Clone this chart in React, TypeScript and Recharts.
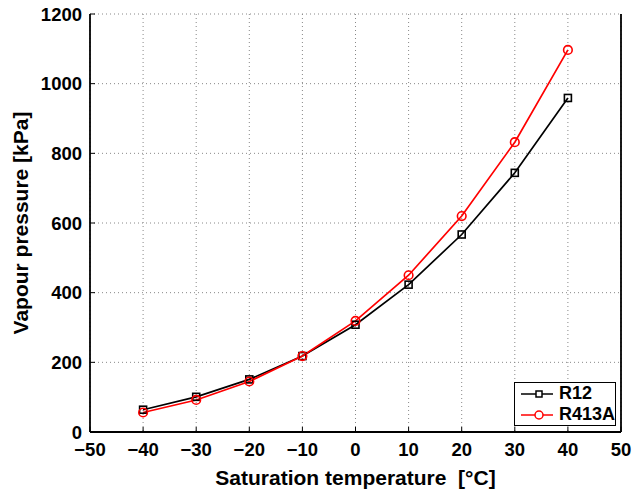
import React from "react";
import { LineChart, Line, XAxis, YAxis, CartesianGrid } from "recharts";

const temperatures = [-40, -30, -20, -10, 0, 10, 20, 30, 40];
const r12 = [64, 101, 151, 218, 308, 423, 567, 744, 959];
const r413a = [56, 92, 145, 218, 319, 450, 620, 832, 1097];
const xTicks = [-50, -40, -30, -20, -10, 0, 10, 20, 30, 40, 50];
const yTicks = [0, 200, 400, 600, 800, 1000, 1200];
const seriesNames = ["R12", "R413A"];

const data = temperatures.map((t, i) => ({ t, r12: r12[i], r413a: r413a[i] }));

const FONT = "'Liberation Sans', Arial, sans-serif";
const TICK_LEN = 5;
const TICK_FONT = 18.5;
const LABEL_FONT = 21;

const BottomTick = (props: any) => {
  const { x, y, payload } = props;
  return (
    <g>
      <line x1={x} y1={y} x2={x} y2={y - TICK_LEN} stroke="#000" strokeWidth={1} />
      <text x={x} y={y + 24} textAnchor="middle" fontFamily={FONT} fontWeight="bold" fontSize={TICK_FONT} fill="#000">
        {String(payload.value).replace("-", "\u2212")}
      </text>
    </g>
  );
};

const TopTick = (props: any) => {
  const { x, y } = props;
  return <line x1={x} y1={y} x2={x} y2={y + TICK_LEN} stroke="#000" strokeWidth={1} />;
};

const LeftTick = (props: any) => {
  const { x, y, payload } = props;
  return (
    <g>
      <line x1={x} y1={y} x2={x + TICK_LEN} y2={y} stroke="#000" strokeWidth={1} />
      <text x={x - 8} y={y + 6.5} textAnchor="end" fontFamily={FONT} fontWeight="bold" fontSize={TICK_FONT} fill="#000">
        {payload.value}
      </text>
    </g>
  );
};

const RightTick = (props: any) => {
  const { x, y } = props;
  return <line x1={x} y1={y} x2={x - TICK_LEN} y2={y} stroke="#000" strokeWidth={1} />;
};

const SquareDot = (props: any) => {
  const { cx, cy } = props;
  if (cx == null || cy == null) return null;
  return <rect x={cx - 3.5} y={cy - 3.5} width={7} height={7} fill="none" stroke="#000" strokeWidth={1.6} />;
};

const CircleDot = (props: any) => {
  const { cx, cy } = props;
  if (cx == null || cy == null) return null;
  return <circle cx={cx} cy={cy} r={4.3} fill="none" stroke="#ff0000" strokeWidth={1.6} />;
};

const LegendBox = () => (
  <div
    style={{
      position: "absolute",
      left: 514,
      top: 382,
      width: 100,
      height: 42,
      border: "1.5px solid #000",
      background: "#fff",
      fontFamily: FONT,
      fontWeight: "bold",
      fontSize: 18,
      boxSizing: "content-box",
    }}
  >
    {[
      { name: seriesNames[0], color: "#000", square: true },
      { name: seriesNames[1], color: "#ff0000", square: false },
    ].map((it) => (
      <div key={it.name} style={{ display: "flex", alignItems: "center", height: 21 }}>
        <svg width={44} height={21}>
          <line x1={6} y1={11} x2={38} y2={11} stroke={it.color} strokeWidth={1.5} />
          {it.square ? (
            <rect x={21} y={8} width={6} height={6} fill="#fff" stroke={it.color} strokeWidth={1.5} />
          ) : (
            <circle cx={24} cy={11} r={4} fill="#fff" stroke={it.color} strokeWidth={1.5} />
          )}
        </svg>
        <span style={{ lineHeight: "21px" }}>{it.name}</span>
      </div>
    ))}
  </div>
);

export default function App() {
  return (
    <div style={{ position: "absolute", left: 0, top: 0, width: 635, height: 492, background: "#fff" }}>
      <LineChart width={635} height={492} data={data} margin={{ top: 14, right: 0, left: 0, bottom: 0 }}>
        <CartesianGrid stroke="#888" strokeDasharray="1 3" strokeWidth={1} />
        <XAxis
          dataKey="t"
          type="number"
          domain={[-50, 50]}
          ticks={xTicks}
          interval={0}
          tickSize={0}
          tickMargin={0}
          tick={<BottomTick />}
          axisLine={{ stroke: "#000", strokeWidth: 1.8 }}
          tickLine={false}
          height={60}
          label={{
            value: "Saturation temperature\u00a0\u00a0[°C]",
            position: "insideBottom",
            offset: 7,
            style: { fontFamily: FONT, fontWeight: "bold", fontSize: LABEL_FONT, fill: "#000" },
          }}
        />
        <XAxis
          xAxisId="top"
          orientation="top"
          dataKey="t"
          type="number"
          domain={[-50, 50]}
          ticks={xTicks}
          interval={0}
          tickSize={0}
          tickMargin={0}
          tick={<TopTick />}
          axisLine={{ stroke: "#000", strokeWidth: 1.8 }}
          tickLine={false}
          height={0}
        />
        <YAxis
          type="number"
          domain={[0, 1200]}
          ticks={yTicks}
          interval={0}
          tickSize={0}
          tickMargin={0}
          tick={<LeftTick />}
          axisLine={{ stroke: "#000", strokeWidth: 1.8 }}
          tickLine={false}
          width={90}
          label={{
            value: "Vapour pressure [kPa]",
            angle: -90,
            position: "insideLeft",
            offset: 21,
            style: { fontFamily: FONT, fontWeight: "bold", fontSize: LABEL_FONT, fill: "#000", textAnchor: "middle" },
          }}
        />
        <YAxis
          yAxisId="right"
          orientation="right"
          type="number"
          domain={[0, 1200]}
          ticks={yTicks}
          interval={0}
          tickSize={0}
          tickMargin={0}
          tick={<RightTick />}
          axisLine={{ stroke: "#000", strokeWidth: 1.8 }}
          tickLine={false}
          width={14}
        />
        <Line
          dataKey="r12"
          name={seriesNames[0]}
          stroke="#000"
          strokeWidth={1.7}
          dot={<SquareDot />}
          activeDot={false}
          isAnimationActive={false}
        />
        <Line
          dataKey="r413a"
          name={seriesNames[1]}
          stroke="#ff0000"
          strokeWidth={1.7}
          dot={<CircleDot />}
          activeDot={false}
          isAnimationActive={false}
        />
      </LineChart>
      <LegendBox />
    </div>
  );
}
